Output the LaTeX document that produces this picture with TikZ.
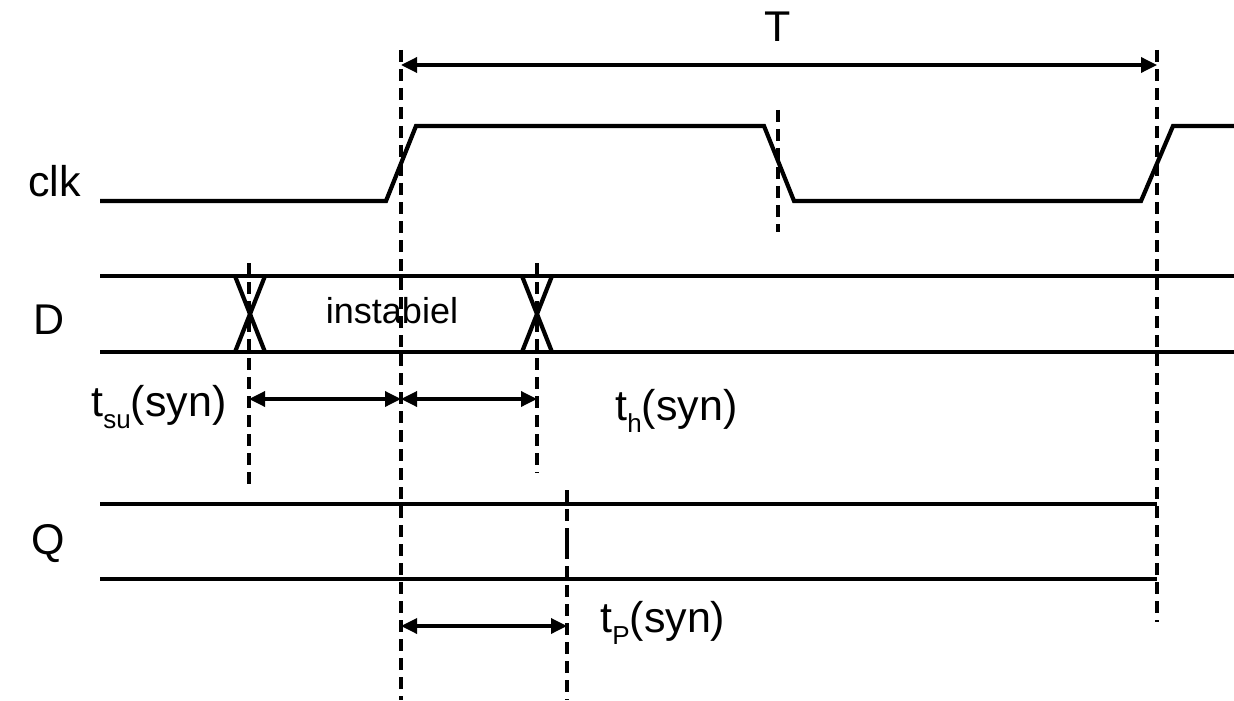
\documentclass[tikz,border=0pt]{standalone}
\usepackage{fontspec}
\setmainfont{Liberation Sans}
\usetikzlibrary{arrows.meta}
\newcommand{\lbl}{\fontsize{21.5}{25}\selectfont}
\newcommand{\sbs}[1]{\raisebox{-6pt}{\fontsize{13}{14}\selectfont #1}}
\begin{document}
\begin{tikzpicture}[x=0.5pt,y=-0.5pt,
  sig/.style={line width=2.1pt,line join=miter},
  guide/.style={line width=1.6pt,dash pattern=on 6pt off 3.5pt},
  dim/.style={line width=1.7pt,{Triangle[length=8pt,width=7.5pt]}-{Triangle[length=8pt,width=7.5pt]}},
  txt/.style={inner sep=0pt,font=\lbl}]
\useasboundingbox (0,0) rectangle (1234,700);
% clock
\draw[sig] (100,201) -- (386,201) -- (416,126) -- (764,126) -- (794,201) -- (1141,201) -- (1173,126) -- (1234,126);
% D
\draw[sig] (100,276) -- (1234,276);
\draw[sig] (100,352) -- (1234,352);
\draw[sig] (235,276) -- (265,352);
\draw[sig] (235,352) -- (265,276);
\draw[sig] (522,276) -- (552,352);
\draw[sig] (522,352) -- (552,276);
% Q
\draw[sig] (100,504) -- (1157,504);
\draw[sig] (100,579) -- (1157,579);
\draw[line width=2pt] (567,533) -- (567,550);
% guides
\coordinate (g1t) at (249,263); \coordinate (g1b) at (249,490);
\coordinate (g2t) at (401,50);  \coordinate (g2b) at (401,700);
\coordinate (g3t) at (537,263); \coordinate (g3b) at (537,473);
\coordinate (g4t) at (567,490); \coordinate (g4b) at (567,700);
\coordinate (g5t) at (778,110); \coordinate (g5b) at (778,232);
\coordinate (g6t) at (1157,50); \coordinate (g6b) at (1157,622);
\draw[guide] (g1t) -- (g1b);
\draw[guide] (g2t) -- (g2b);
\draw[guide] (g3t) -- (g3b);
\draw[guide] (g4t) -- (g4b);
\draw[guide] (g5t) -- (g5b);
\draw[guide] (g6t) -- (g6b);
% dimension arrows
\coordinate (a1) at (249,399); \coordinate (a2) at (401,399); \coordinate (a3) at (537,399);
\coordinate (p1) at (401,626); \coordinate (p2) at (567,626);
\coordinate (T1) at (401,65); \coordinate (T2) at (1157,65);
\draw[dim] (a1) -- (a2);
\draw[dim] (a2) -- (a3);
\draw[dim] (p1) -- (p2);
\draw[dim] (T1) -- (T2);
% labels
\node[txt,anchor=base west] (clk) at (28,197) {clk};
\node[txt,anchor=base west] (dl) at (33,334) {D};
\node[txt,anchor=base west] (ql) at (31,554) {Q};
\node[txt,anchor=base] (tl) at (778,42) {T};
\node[inner sep=0pt,anchor=base,font=\fontsize{18}{22}\selectfont] (inst) at (392,323) {instabiel};
\node[txt,anchor=base west] (tsu) at (91,416) {t\sbs{su}(syn)};
\node[txt,anchor=base west] (th) at (615,420) {t\sbs{h}(syn)};
\node[txt,anchor=base west] (tp) at (600,632) {t\sbs{P}(syn)};
\end{tikzpicture}
\end{document}
